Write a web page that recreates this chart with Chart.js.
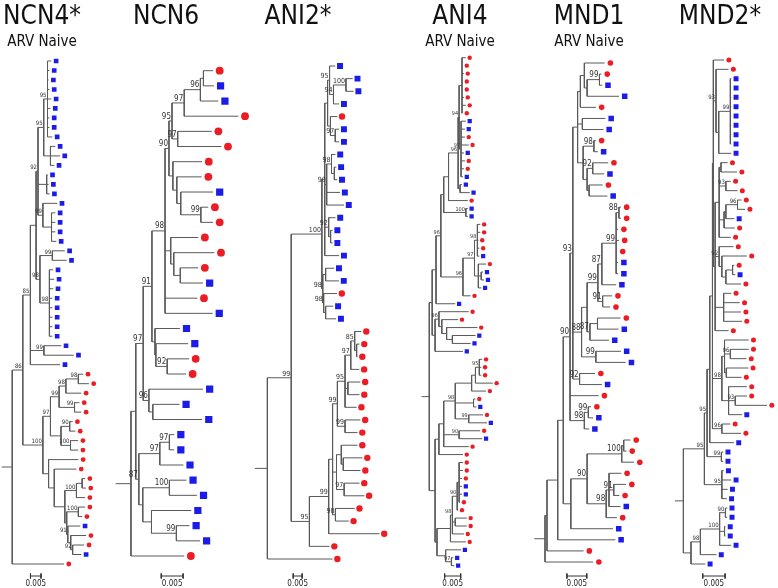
<!DOCTYPE html>
<html lang="en">
<head>
<meta charset="UTF-8">
<title>HIV env trees</title>
<script src="https://cdn.jsdelivr.net/npm/chart.js"></script>
<style>
  body { margin: 0; background: #fff; }
  #wrap { position: relative; width: 778px; height: 588px; overflow: hidden; }
  #wrap canvas { position: absolute; top: 0; }
</style>
</head>
<body>
<div id="wrap"></div>
<script>
// panel headers
const panelTitles = ['NCN4*', 'NCN6', 'ANI2*', 'ANI4', 'MND1', 'MND2*'];
const panelSubtitles = ['ARV Naive', '', '', 'ARV Naive', 'ARV Naive', ''];

// trees in newick, branch lengths in 0.001 substitutions/site
// tips: r = red circle, b = blue square; internal labels = bootstrap
const ncn4Newick = [
  '(((((',
  '((b:1.8,b:0.9,b:0.5,b:0.9,b:1.8,b:1.4,b:0.9,b:0.9,b:2.3)95:1.8,(b:2.3,b:4.5,b:1.8):3.2)95',
  ':2.7,(b:0.5,b:0.9,b:1.4):4.1,(b:6.8,(b:1.8,b:1.8,b:1.8,b:2.3):4.1)99:2.3)92',
  ':0.9,((b:5.9,b:6.8)99:5.9,(b:1.8,b:2.3,b:1.8,b:1.4,b:1.4,b:1.4,b:1.4,b:1.4)98:4.5)98',
  ':1.8):2.7,(b:8.2,b:14.1)99:6.4,b:14.1)85:3.6,',
  '(((((r:2.3,r:5.0)98:5.9,r:7.3)98:3.2,(r:2.3,r:3.2)99:7.3)99',
  ':4.1,((r:1.4,r:2.7)90:4.1,(r:3.6,r:3.6)100:4.5):5.0)97:3.6,',
  '(r:14.1,(r:10.5,(((r:1.4,r:1.8):2.7,r:4.1)100:5.5,((r:3.2,r:1.8)100:5.5,(b:5.9,(r:7.3,(r:5.5,b:4.1)92:0.9):1.4)91:0.5):0.9):5.0):2.7)',
  ':2.7)100:9.5)86:5.0,r:24.5):5.0'
].join('');

const ncn6Newick = [
  '(((((',
  '(((((r:2.2,b:2.4):0.7,b:4.1)96:3.7,r:12.4)97:2.8,(r:7.8,r:10.0)97:1.3)95:0.7,(r:6.7,(r:5.7,(b:7.4,(r:1.7,r:2.8)99:4.6):0.9):0.9):0.9)90',
  ':0.9,(r:6.3,(r:9.3,(r:4.1,b:5.2):1.5):0.7):1.3,r:7.4,b:10.9)98:3.0,',
  '(b:5.7,(b:7.4,(r:5.0,r:4.3)92:2.6):0.2):0.7)91:2.0,',
  '(b:12.4,(b:6.1,b:11.3):0.9)96:1.3)97:1.7,',
  '(((b:1.1,b:1.1)97:2.2,b:5.4)97:4.8,((b:3.9,b:6.3)100:6.1,(b:9.1,(b:3.0,b:5.4)99:5.7):2.0):0.9)87',
  ':0.7):1.1,r:12.2):3.5'
].join('');

const ani2Newick = [
  '((((((b:3.2,',
  '((b:3.8,b:4.3)100:7.0,b:3.2)94:2.2)95:1.1,',
  '(r:3.8,(b:2.2,b:2.2)97:2.7):1.6):1.6,',
  '((b:2.2,(b:1.1,b:1.6):1.6)98:2.7,b:7.5,b:9.7)90:1.1,',
  '(b:3.8,(b:1.1,b:1.1):1.1)92:2.2,b:8.1):1.6,',
  '((b:4.8,b:7.5):1.6,(r:7.5,(b:4.3,b:5.9):1.1)98:0.5)98:0.5)100:17.2,',
  '(((((((r:3.8,(r:1.6,r:0.5):1.1)85:2.2,r:4.8)97:3.2,(r:7.0,r:6.5):1.6,r:6.5)95:4.3,(r:8.6,r:7.0)99:4.3)99:2.7,',
  '((r:9.1,(r:10.8,r:9.7):1.1):2.7,(r:8.6,r:11.3)97:4.3):2.2,',
  '(r:10.8,r:7.5)90:1.6):2.2,r:28.5)99:10.8,r:11.3)95:10.2)99:13.4,r:36.6):7.0'
].join('');

const ani4Newick = [
  '(((((((',
  '((r:1.2,r:0.3,r:0.6,r:0.3,r:0.3,r:0.6,r:1.2,r:0.3):0.9,(b:1.5,b:1.2,r:1.2,r:2.4,b:0.9,r:1.2,r:0.9,b:0.6)97:0.6)94',
  ':0.3,(b:0.6,b:3.0):0.6)96:3.0,r:6.0):1.5,(b:0.6,b:0.6)100:6.9):0.9,',
  '(((r:0.9,r:0.9,r:0.3,r:0.6,b:0.6)98:0.9,(r:2.4,(b:0.6,b:0.9):0.9,b:0.9):1.2)97:3.6,r:2.4)96',
  ':6.9)96:1.5,b:6.0):1.2,',
  '((r:9.3,(r:5.1,(r:9.6,(b:7.2,b:5.7):1.8):1.5):0.9)96:1.2,b:8.7)',
  ':0.9):0.9,(((',
  '((((r:0.9,r:0.6,r:0.6)95:1.2,r:5.4):1.2,r:4.5):5.1,(r:0.6,b:0.9):5.7,(r:4.5,b:5.7)99:4.2)98',
  ':3.6,(r:6.6,b:7.2)90:4.8,r:7.8):1.5,r:7.5):1.2,(',
  '((((r:1.2,r:1.2,r:0.9,b:0.9,b:0.9,r:0.3):0.6,r:0.3)90:1.5,(r:3.6,r:3.6):0.9,r:3.6)98:0.6,r:4.8)',
  ':4.2,(b:4.8,(b:0.6,b:0.9)97:1.8):2.7):0.6):1.8):2.4'
].join('');

const mnd1Newick = [
  '((((((',
  '(((r:5.1,((r:0.5,b:0.7)99:3.1,b:8.0):0.7):1.0,r:3.9):0.7,(b:5.8,b:5.3):1.2,((r:0.5,b:1.0)98:2.7,((r:3.9,b:2.9)92:1.4,(r:3.4,b:4.6):0.5):1.0):1.4)',
  ':1.2,',
  '((((((r:0.5,r:0.5)88:0.7,r:0.5,r:0.7,r:0.2,b:0.5,b:0.5)99:3.6,b:3.6)87:1.0,(r:2.4,r:1.9)91:1.2)99:2.7,((r:5.8,b:5.3):1.9,b:4.8)87:0.7):1.4,(b:6.3,b:7.5)99:3.6)88',
  ':2.2,(r:3.9,b:5.6)92:1.7)93',
  ':0.7,r:7.2,((r:0.7,b:1.2)99:1.0,b:1.2)98:3.6)90',
  ':1.7,((((r:1.7,r:0.7):0.5,r:3.1)100:8.7,((r:3.1,(r:3.1,r:1.4)91:1.2,b:2.9):0.7,r:2.7)98:4.8)90:4.1,b:10.6):1.9)',
  ':1.4,b:14.5):2.7,r:9.2):0.5,r:12.1):2.7'
].join('');

const mnd2Newick = [
  '(((((',
  '(r:2.4,(r:2.8,((b:0.2,b:0.2,b:0.2,b:0.2,b:0.2,b:0.2,b:0.2,b:0.2)99:2.6,b:2.8):0.6)93:0.6,',
  '(((r:1.5,r:3.6):0.4,(r:1.1,r:2.6)93:1.5,(((r:0.9,r:1.7)96:2.6,b:1.9):0.4,r:2.4):1.1,r:2.6):0.9,',
  '(r:3.2,(r:5.6,((r:0.4,b:0.6):1.5,r:3.4):0.9):0.6)92:0.9,(r:1.7,r:3.6,r:3.9,r:4.1):1.9,r:3.0):0.4)',
  ':0.2,',
  '((r:5.4,(r:4.1,r:3.6)96:1.3,(r:4.9,r:3.4):0.4):0.6,(r:4.1,(r:2.6,r:7.1)93:1.5,b:3.0):1.5)98',
  ':2.1,(r:1.9,r:4.3)96:2.1):0.6,b:5.4):0.6,(b:0.4,b:0.4)99:3.2)95:0.6,(b:0.4,b:2.1,b:1.3,b:1.1)95:3.9)95:4.7,',
  '((((b:0.4,b:0.4)90:1.3,(b:0.2,b:0.2):1.1,b:2.6)100:4.3,b:3.6)98:2.1,b:3.2):1.7):1.9'
].join('');

const treeStrings = [ncn4Newick, ncn6Newick, ani2Newick, ani4Newick, mnd1Newick, mnd2Newick];
const scaleBarValue = 0.005;
const unit = 0.001;

const FONT = "'Liberation Sans Narrow', 'Arial Narrow', 'DejaVu Sans Condensed', 'Liberation Sans', Arial, sans-serif";
const RED = '#ec1c24';
const BLUE = '#1c1ce8';
const LINE = '#5a5a5a';
const CW = 200, CH = 588;

// where each panel sits on the page (pixels)
const panels = [
  { center: 42,  rootX: 0,   barPx: 11,   barX: 30,  firstY: 61,   lastY: 564,   gap: 5, r: 2.4, sq: 3.3, lab: 6 },
  { center: 166, rootX: 113, barPx: 23,   barX: 161, firstY: 70.7, lastY: 556,   gap: 7, r: 3.9, sq: 5.1, lab: 8 },
  { center: 298, rootX: 253, barPx: 9.3,  barX: 293, firstY: 66,   lastY: 559,   gap: 5, r: 3.2, sq: 4.2, lab: 7 },
  { center: 460, rootX: 420, barPx: 16.7, barX: 444, firstY: 57.7, lastY: 565.7, gap: 4, r: 2.2, sq: 3.0, lab: 5.5 },
  { center: 589, rootX: 532, barPx: 20.7, barX: 566, firstY: 63,   lastY: 562,   gap: 6, r: 2.8, sq: 3.9, lab: 8 },
  { center: 720, rootX: 673, barPx: 23.3, barX: 702, firstY: 60,   lastY: 564,   gap: 5, r: 2.5, sq: 3.5, lab: 6 }
];
const BAR_Y = 576;

function parseTree(str) {
  const s = str.replace(/\s+/g, '');
  let i = 0;
  function parse() {
    const node = { children: [] };
    if (s[i] === '(') {
      i++;
      node.children.push(parse());
      while (s[i] === ',') { i++; node.children.push(parse()); }
      i++;
    }
    let name = '';
    while (i < s.length && ':,()'.indexOf(s[i]) < 0) name += s[i++];
    node.name = name;
    node.len = 0;
    if (s[i] === ':') {
      i++;
      let num = '';
      while (i < s.length && ',()'.indexOf(s[i]) < 0) num += s[i++];
      node.len = parseFloat(num);
    }
    return node;
  }
  const root = parse();
  const nodes = [], tips = [];
  (function place(n, x0) {
    n.x = x0 + n.len;
    nodes.push(n);
    if (!n.children.length) { n.y = tips.length; tips.push(n); return; }
    n.children.forEach(c => place(c, n.x));
    n.y = (n.children[0].y + n.children[n.children.length - 1].y) / 2;
  })(root, 0);
  return { nodes, tips };
}

const GAP = { x: null, y: null };
const wrap = document.getElementById('wrap');

treeStrings.forEach((str, k) => {
  const p = panels[k];
  const tree = parseTree(str);
  const n = tree.tips.length;
  const ppu = p.barPx / (scaleBarValue / unit);   // px per 0.001
  const step = (p.lastY - p.firstY) / (n - 1);
  const left = p.center - CW / 2;

  const branches = [];
  tree.nodes.forEach(nd => {
    branches.push({ x: nd.x - nd.len, y: nd.y }, { x: nd.x, y: nd.y }, GAP);
    if (nd.children.length) {
      const last = nd.children[nd.children.length - 1];
      branches.push({ x: nd.x, y: nd.children[0].y }, { x: nd.x, y: last.y }, GAP);
    }
  });
  const off = p.gap / ppu;
  const red = tree.tips.filter(t => t.name === 'r').map(t => ({ x: t.x + off, y: t.y }));
  const blue = tree.tips.filter(t => t.name === 'b').map(t => ({ x: t.x + off, y: t.y }));

  const barLen = scaleBarValue / unit;
  const bx = (p.barX - p.rootX) / ppu;
  const by = (BAR_Y - p.firstY) / step;
  const tk = 2.5 / step;
  const bar = [
    { x: bx, y: by }, { x: bx + barLen, y: by }, GAP,
    { x: bx, y: by - tk }, { x: bx, y: by + tk }, GAP,
    { x: bx + barLen, y: by - tk }, { x: bx + barLen, y: by + tk }
  ];

  const textPlugin = {
    id: 'treeText' + k,
    afterDatasetsDraw(chart) {
      const { ctx } = chart;
      const xs = chart.scales.x, ys = chart.scales.y;
      ctx.save();
      ctx.fillStyle = '#333';
      ctx.font = p.lab + 'px ' + FONT;
      ctx.textAlign = 'right';
      ctx.textBaseline = 'bottom';
      tree.nodes.forEach(nd => {
        if (nd.children.length && nd.name) {
          ctx.fillText(nd.name, xs.getPixelForValue(nd.x) - 1, ys.getPixelForValue(nd.y) - 0.5);
        }
      });
      ctx.fillStyle = '#222';
      ctx.font = '8px ' + FONT;
      ctx.textAlign = 'center';
      ctx.textBaseline = 'middle';
      ctx.fillText(String(scaleBarValue), xs.getPixelForValue(bx + barLen / 2), ys.getPixelForValue(by) + 8);
      ctx.restore();
    }
  };

  const canvas = document.createElement('canvas');
  canvas.width = CW;
  canvas.height = CH;
  canvas.style.left = left + 'px';
  wrap.appendChild(canvas);

  const chart = new Chart(canvas, {
    type: 'scatter',
    data: {
      datasets: [
        { data: branches, showLine: true, spanGaps: false, borderColor: LINE, borderWidth: 1, pointRadius: 0, order: 3 },
        { data: bar, showLine: true, spanGaps: false, borderColor: '#333', borderWidth: 1, pointRadius: 0, order: 2 },
        { data: red, pointStyle: 'circle', pointRadius: p.r, backgroundColor: RED, pointBorderWidth: 0, order: 1 },
        { data: blue, pointStyle: 'rect', pointRadius: p.sq, backgroundColor: BLUE, pointBorderWidth: 0, order: 1 }
      ]
    },
    options: {
      responsive: false,
      animation: false,
      events: [],
      layout: { padding: 0 },
      plugins: {
        legend: { display: false },
        tooltip: { enabled: false },
        title: {
          display: true, text: panelTitles[k], color: '#111',
          font: { family: FONT, size: 26, weight: 'normal', lineHeight: 1.2 },
          padding: { top: 2, bottom: 0 }
        },
        subtitle: {
          display: !!panelSubtitles[k], text: panelSubtitles[k], color: '#111',
          font: { family: FONT, size: 15, weight: 'normal', lineHeight: 1.2 },
          padding: { top: 0, bottom: 0 }
        }
      },
      scales: {
        x: { type: 'linear', display: false, min: (left - p.rootX) / ppu, max: (left + CW - p.rootX) / ppu },
        y: { type: 'linear', display: false, reverse: true, min: 0, max: n }
      }
    },
    plugins: [textPlugin]
  });

  // fit the tip rows to their page positions
  const area = chart.chartArea;
  const yMin = -(p.firstY - area.top) / step;
  chart.options.scales.y.min = yMin;
  chart.options.scales.y.max = yMin + (area.bottom - area.top) / step;
  chart.update('none');
});
</script>
</body>
</html>
